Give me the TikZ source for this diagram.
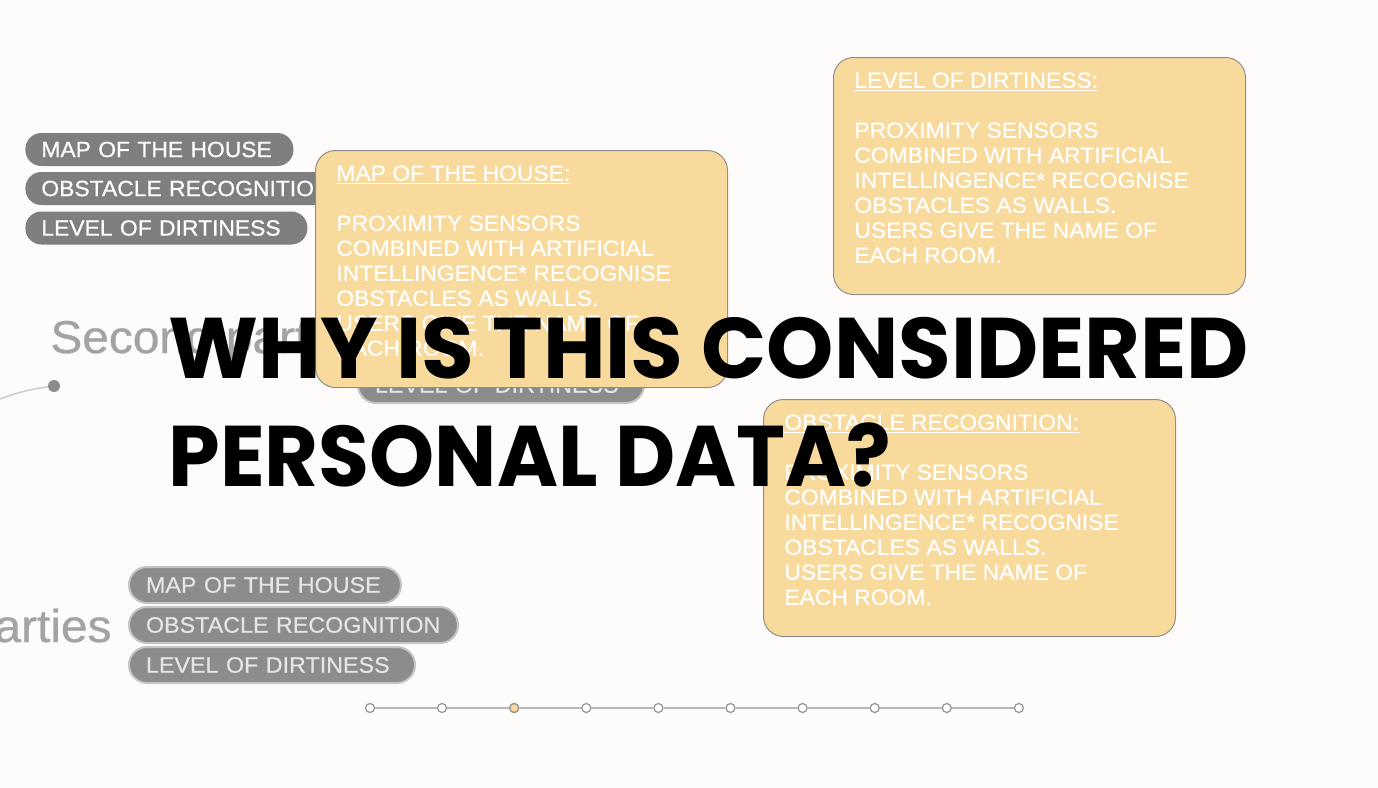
\documentclass[tikz,border=0pt]{standalone}
\usepackage{fontspec}
\setmainfont{Liberation Sans}
\newfontfamily\cardfont{Liberation Sans}[FakeBold=0.6, FakeStretch=1.04]
\newfontfamily\headfont{Poppins}
\usetikzlibrary{positioning}

\definecolor{paper}{HTML}{FDFCFA}
\definecolor{sand}{HTML}{F8DA9C}
\definecolor{pillgray}{HTML}{7F7F7F}
\definecolor{fog}{HTML}{A3A3A3}
\definecolor{rim}{HTML}{8E8E8E}
\definecolor{track}{HTML}{B8B8B8}

\newcommand{\roomnote}[1]{\underline{#1}\\[12.5pt]PROXIMITY SENSORS\\COMBINED WITH ARTIFICIAL\\INTELLINGENCE* RECOGNISE\\OBSTACLES AS WALLS.\\USERS GIVE THE NAME OF\\EACH ROOM.}

\begin{document}
\begin{tikzpicture}[x=0.5pt, y=-0.5pt,
  pill/.style={fill=pillgray, text=white, rounded corners=8pt, anchor=west,
    minimum height=16.5pt, inner xsep=8pt, inner ysep=0pt, align=left,
    font=\cardfont\fontsize{11}{13}\selectfont},
  blurpill/.style={pill, fill=pillgray!90!white, draw=pillgray!45!white, line width=1pt,
    text=white!90!black, minimum height=18pt, inner xsep=8.5pt, rounded corners=9pt,
    font=\cardfont\fontsize{11.2}{13}\selectfont},
  card/.style={draw=rim, line width=0.5pt, fill=sand, rounded corners=10pt,
    anchor=north west, minimum width=206pt, minimum height=118.5pt, inner sep=0pt},
  note/.style={inner sep=0pt, align=left, text=white, font=\cardfont\fontsize{11}{12.5}\selectfont},
  faded/.style={text=fog, inner sep=0pt, font=\cardfont\fontsize{23}{23}\selectfont},
  headline/.style={anchor=base west, inner sep=0pt, font=\headfont\bfseries\fontsize{43}{43}\selectfont},
  stopdot/.style={circle, draw=gray!85, fill=white, line width=0.6pt, minimum size=4.5pt, inner sep=0pt},
]
  \fill[paper] (0,0) rectangle (1378,788);
  \useasboundingbox (0,0) rectangle (1378,788);
  \clip (0,0) rectangle (1378,788);

  % data pills, top left
  \node[pill, text width=118pt] (map) at (25,149.5) {MAP OF THE HOUSE};
  \node[pill, text width=150pt] (obst) at (25,188.5) {OBSTACLE RECOGNITION};
  \node[pill, text width=125pt] (dirt) at (25,228) {LEVEL OF DIRTINESS};

  % faded slide behind
  \node[faded, anchor=base west] (second) at (50,353) {Second parties};
  \node[circle, fill=gray!90, minimum size=6pt, inner sep=0pt] (hub) at (54,386) {};
  \coordinate (edge) at (0,399);
  \draw[fog!55, line width=0.8pt] (edge) to[bend left=6] (hub);
  \node[blurpill, text width=126pt] (dirtb) at (357,385) {LEVEL OF DIRTINESS};

  \node[faded, anchor=base east] (third) at (112,642) {Third parties};
  \node[blurpill, text width=119pt] (mapc) at (128,585) {MAP OF THE HOUSE};
  \node[blurpill, text width=147.5pt] (obstc) at (128,625) {OBSTACLE RECOGNITION};
  \node[blurpill, text width=126pt] (dirtc) at (128,665) {LEVEL OF DIRTINESS};

  % detail cards
  \node[card] (c1) at (315,150) {};
  \node[card] (c2) at (833,57) {};
  \node[card] (c3) at (763,399) {};
  \node[note, below right=7.5pt and 10.5pt of c1.north west] (n1) {\roomnote{MAP OF THE HOUSE:}};
  \node[note, below right=7.5pt and 10.5pt of c2.north west] (n2) {\roomnote{LEVEL OF DIRTINESS:}};
  \node[note, below right=7.5pt and 10.5pt of c3.north west] (n3) {\roomnote{OBSTACLE RECOGNITION:}};

  % question
  \node[headline] (title1) at (168,378) {\scalebox{0.995}[1]{WHY IS THIS CONSIDERED}};
  \node[headline] (title2) at (168,486) {\scalebox{0.963}[1]{PERSONAL DATA?}};

  % progress
  \foreach \i in {0,...,9}
    \node[stopdot] (s\i) at ({370+72.1*\i},708) {};
  \node[stopdot, fill=sand] at (s2) {};
  \foreach \a [count=\b] in {0,...,8}
    \draw[track, line width=0.75pt] (s\a) -- (s\b);
\end{tikzpicture}
\end{document}
